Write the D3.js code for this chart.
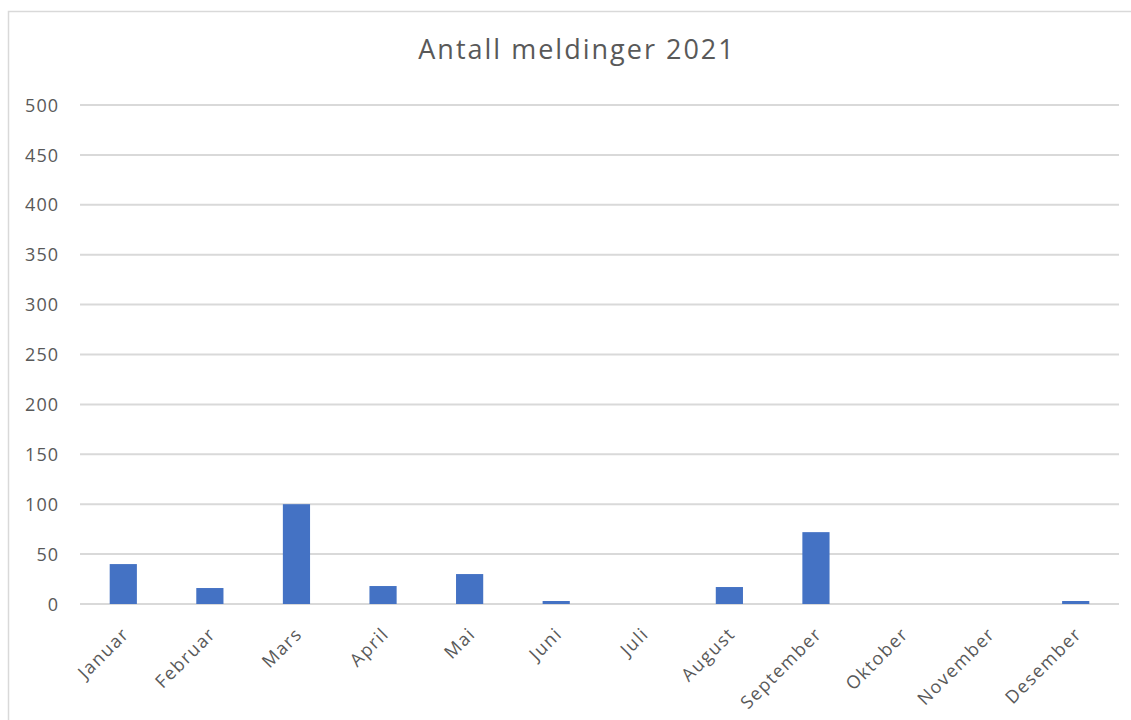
<!DOCTYPE html>
<html>
<head>
<meta charset="utf-8">
<script src="https://cdn.jsdelivr.net/npm/d3@7"></script>
<style>
  body { margin: 0; background: #fff; }
  text { font-family: "Open Sans", sans-serif; fill: #595959; }
</style>
</head>
<body>
<svg id="chart" width="1131" height="720"></svg>
<script>
// data
const months = ["Januar", "Februar", "Mars", "April", "Mai", "Juni", "Juli",
  "August", "September", "Oktober", "November", "Desember"];
const counts = [40, 16, 100, 18, 30, 3, 0, 17, 72, 0, 0, 3];
const yTicks = [0, 50, 100, 150, 200, 250, 300, 350, 400, 450, 500];
const title = "Antall meldinger 2021";

const svg = d3.select("#chart");

// chart frame (cut off at right/bottom like the screenshot)
svg.append("rect")
  .attr("x", 8.5).attr("y", 11.5)
  .attr("width", 1140).attr("height", 740)
  .attr("fill", "#fff")
  .attr("stroke", "#d9d9d9")
  .attr("stroke-width", 1.5);

const plotLeft = 80, plotRight = 1119, plotTop = 105, plotBottom = 604;

const x = d3.scaleBand()
  .domain(months)
  .range([plotLeft, plotRight])
  .paddingInner(0.686)
  .paddingOuter(0.343);

const y = d3.scaleLinear()
  .domain([0, 500])
  .range([plotBottom, plotTop]);

// gridlines
svg.append("g")
  .selectAll("line")
  .data(yTicks)
  .join("line")
  .attr("x1", plotLeft).attr("x2", plotRight)
  .attr("y1", d => y(d)).attr("y2", d => y(d))
  .attr("stroke", "#d9d9d9")
  .attr("stroke-width", 2);

// y axis labels
const yAxis = svg.append("g")
  .attr("transform", `translate(${plotLeft - 21},0)`)
  .call(d3.axisLeft(y).tickValues(yTicks).tickSize(0).tickPadding(0));
yAxis.select(".domain").remove();
yAxis.selectAll("text")
  .attr("font-size", 18)
  .attr("letter-spacing", 1)
  .attr("font-family", "Open Sans, sans-serif")
  .attr("fill", "#595959")
  .attr("dy", "0.34em");

// bars
svg.append("g")
  .selectAll("rect")
  .data(counts)
  .join("rect")
  .attr("x", (d, i) => x(months[i]))
  .attr("width", x.bandwidth())
  .attr("y", d => y(d))
  .attr("height", d => y(0) - y(d))
  .attr("fill", "#4472c4");

// x axis labels
const xAxis = svg.append("g")
  .attr("transform", `translate(0,${plotBottom})`)
  .call(d3.axisBottom(x).tickSize(0).tickPadding(0));
xAxis.select(".domain").remove();
xAxis.selectAll("text")
  .attr("font-size", 18)
  .attr("letter-spacing", 1.5)
  .attr("font-family", "Open Sans, sans-serif")
  .attr("fill", "#595959")
  .attr("text-anchor", "end")
  .attr("dy", 0)
  .attr("transform", "translate(7,31) rotate(-45)");

// title
svg.append("text")
  .attr("x", 577).attr("y", 59)
  .attr("text-anchor", "middle")
  .attr("font-size", 27)
  .attr("letter-spacing", 2)
  .attr("fill", "#595959")
  .text(title);
</script>
</body>
</html>
